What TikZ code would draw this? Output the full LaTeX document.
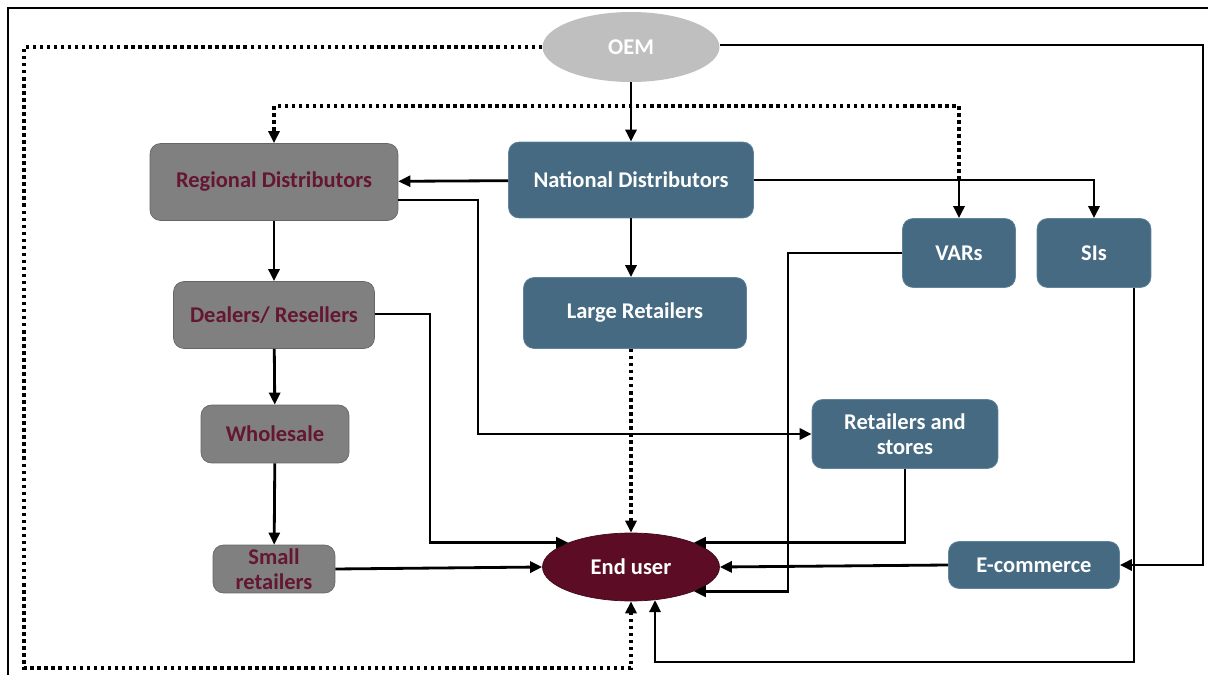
\documentclass[tikz,border=0pt]{standalone}
\usepackage{fontspec}
\setmainfont{Carlito}
\usepackage{xcolor}
\definecolor{chanblue}{RGB}{69,106,130}
\definecolor{chanblueedge}{RGB}{96,132,155}
\definecolor{changray}{RGB}{128,128,128}
\definecolor{chanlight}{RGB}{191,191,191}
\definecolor{chanmaroon}{RGB}{100,22,50}
\definecolor{chanend}{RGB}{92,12,36}
\usetikzlibrary{positioning, shapes.geometric, arrows.meta}

\begin{document}
\begin{tikzpicture}[
    x=0.02cm, y=-0.02cm,
    bluebox/.style={rectangle, draw=chanblueedge, fill=chanblue, rounded corners=6pt,
                    align=center, text=white, inner sep=2pt,
                    font=\fontsize{12.8}{14.5}\selectfont\bfseries},
    graybox/.style={rectangle, draw=changray!80!black, fill=changray, rounded corners=6pt,
                    align=center, text=chanmaroon, inner sep=2pt,
                    font=\fontsize{12.8}{14.5}\selectfont\bfseries},
    oval/.style={ellipse, align=center, inner sep=0pt, text=white,
                 font=\fontsize{12.8}{14.5}\selectfont\bfseries},
    arr/.style={-{Triangle[length=2.4mm, width=2.2mm]}, line width=1.6pt, black},
    dotarr/.style={-{Triangle[length=2.4mm, width=2.2mm]}, line width=2pt, black,
                   dash pattern=on 2pt off 2pt},
  ]
    \useasboundingbox (0,0) rectangle (1208,675);
    \draw[line width=1pt] (1208,8) -- (8,8) -- (8,675);

    % --- Top ---
    \node[oval, fill=chanlight, minimum width=3.54cm, minimum height=1.4cm] (oem) at (631,47) {OEM};

    % --- Distributor row ---
    \node[graybox, minimum width=4.96cm, minimum height=1.54cm] (reg)  at (274,182) {Regional Distributors};
    \node[bluebox, minimum width=4.9cm,  minimum height=1.52cm] (natl) at (631,180) {National Distributors};
    \node[bluebox, minimum width=2.26cm, minimum height=1.38cm] (vars) at (959,253) {VARs};
    \node[bluebox, minimum width=2.28cm, minimum height=1.38cm] (sis)  at (1094,253) {SIs};

    % --- Left column ---
    \node[graybox, minimum width=4.02cm, minimum height=1.34cm] (deal)  at (274,315) {Dealers/ Resellers};
    \node[graybox, minimum width=2.96cm, minimum height=1.16cm] (whole) at (275,434) {Wholesale};
    \node[graybox, minimum width=2.44cm, minimum height=0.96cm, inner sep=1pt] (small) at (274,569) {Small\\retailers};

    % --- Middle and right ---
    \node[bluebox, minimum width=4.46cm, minimum height=1.42cm] (large) at (635,313) {Large Retailers};
    \node[bluebox, minimum width=3.72cm, minimum height=1.38cm] (rstore) at (905,434) {Retailers and\\stores};
    \node[bluebox, minimum width=3.42cm, minimum height=0.94cm] (ecom) at (1034,565) {E-commerce};

    % --- Bottom ---
    \node[oval, fill=chanend, draw=chanend!70!black, minimum width=3.54cm, minimum height=1.36cm] (eu) at (631,567) {End user};

    % --- Helper points ---
    \coordinate (dtop)    at (631,106);
    \coordinate (lcorner) at (24,668);
    \coordinate (rcol)    at (1203,45);
    \coordinate (regcol)  at (478,200);
    \coordinate (dealcol) at (430,314);
    \coordinate (varcol)  at (788,253);
    \coordinate (sicol)   at (1134,662);

    % --- Solid flows ---
    \draw[arr] (oem) -- (natl);
    \draw[arr] (natl.south) -- (natl.south |- large.north);
    \draw[arr] (natl) -- (reg);
    \draw[arr] (natl.east) -| (sis.north);
    \draw[arr] (vars.north |- natl.east) -- (vars.north);
    \draw[arr] (oem.east |- rcol) -- (rcol) |- (ecom.east);
    \draw[arr] (reg) -- (deal);
    \draw[arr] (deal) -- (whole);
    \draw[arr] (whole) -- (small);
    \draw[arr] (reg.east |- regcol) -- (regcol) |- (rstore.west);
    \draw[arr] (deal.east |- dealcol) -- (dealcol) |- (eu.north west);
    \draw[arr] (small.east) -- (eu.west);
    \draw[arr] (rstore.south) |- (eu.north east);
    \draw[arr] (ecom.west) -- (eu.east);
    \draw[arr] (vars.west) -- (varcol) |- (eu.south east);
    \draw[arr] (sicol |- sis.south) -- (sicol) -| (eu.-54);

    % --- Dotted flows ---
    \draw[dotarr] (vars.north |- natl.east) -- (vars.north |- dtop) -| (reg.north);
    \draw[dotarr] (oem.west) -| (lcorner) -| (eu.south);
    \draw[dotarr] (eu |- large.south) -- (eu.north);
  \end{tikzpicture}
\end{document}
